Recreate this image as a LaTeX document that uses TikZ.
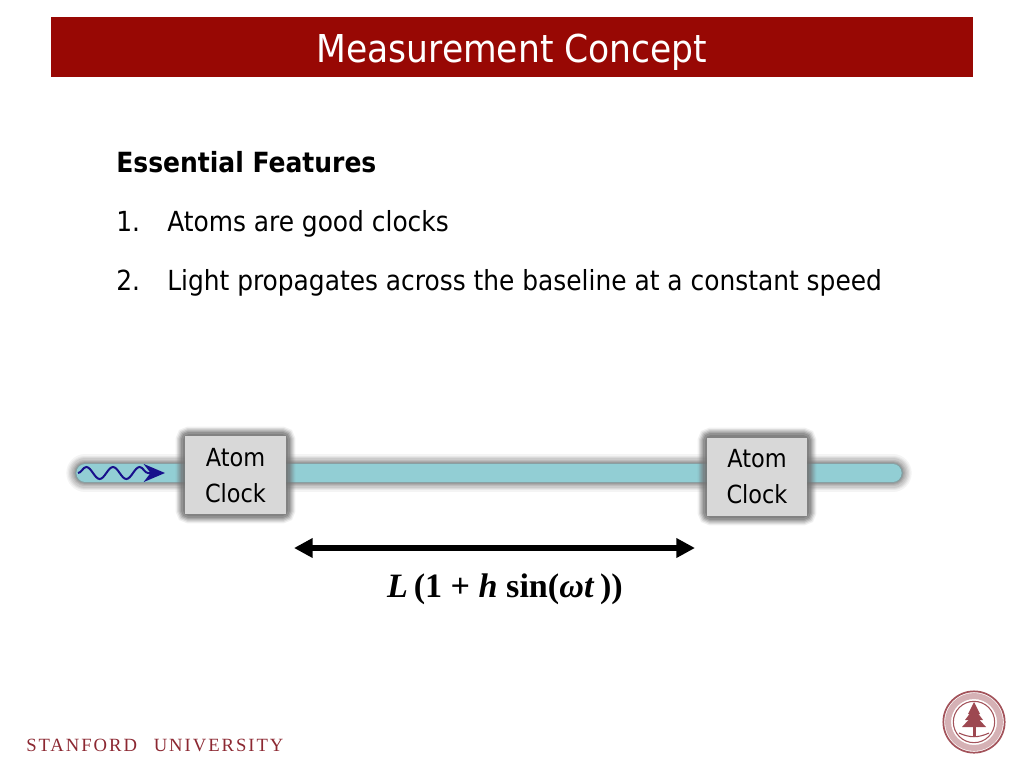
\documentclass[tikz,border=0pt]{standalone}
\usepackage{fontspec}
\setmainfont{DejaVu Sans Condensed}
\newfontfamily\formulafont{Liberation Serif}
\usetikzlibrary{decorations.pathmorphing, arrows.meta}
\definecolor{cardinal}{RGB}{152,8,4}
\definecolor{footerRed}{RGB}{140,40,50}
\definecolor{beamCyan}{RGB}{146,206,212}
\definecolor{clockGrey}{RGB}{216,216,216}
\definecolor{waveBlue}{RGB}{24,16,140}
\tikzset{
	bullet/.style={anchor=base west, inner sep=0pt, font=\fontsize{20.75}{24}\selectfont, text=black},
	clock/.style={draw=none, fill=clockGrey, minimum width=75.5pt, minimum height=58.5pt, inner sep=0pt, align=center, font=\fontsize{18.7}{27}\selectfont},
	sealRing/.style={draw=footerRed!80, fill=none}
}
\newcommand{\blurBar}[5]{
	\foreach \w/\o in {18/0.07, 16/0.08, 14/0.1, 12/0.12, 10/0.14, 8/0.18, 6/0.22, 4/0.26}
		\draw[line width=#5+\w pt, line cap=round, black!60, opacity=\o] (#1,#2) -- (#3,#4);
}
\newcommand{\blurBox}[4]{
	\foreach \w/\o in {14/0.1, 12/0.16, 10/0.24, 8/0.32, 6/0.4, 3/0.5}
		\draw[line width=\w pt, rounded corners=3pt, black!55, opacity=\o] (#1,#2) rectangle (#3,#4);
}
\newcommand{\clockLabel}{\rule{0pt}{14pt}Atom\\Clock}
\begin{document}
\begin{tikzpicture}[x=0.75pt, y=-0.75pt]
	\useasboundingbox[fill=white] (0,0) rectangle (1024,768);

	% title
	\node[fill=cardinal, minimum width=691.5pt, minimum height=45pt, inner sep=0pt, text=white, text height=30pt, text depth=6.5pt, font=\fontsize{28.8}{32}\selectfont] (title) at (512,47) {Measurement Concept};

	% text
	\node[bullet, font=\bfseries\fontsize{20.85}{24}\selectfont] (features) at (116,172) {Essential Features};
	\node[bullet] (num1) at (116,231) {1.};
	\node[bullet] (item1) at (167,231) {Atoms are good clocks};
	\node[bullet] (num2) at (116,290) {2.};
	\node[bullet] (item2) at (167,290) {Light propagates across the baseline at a constant speed};

	% baseline
	\blurBar{85}{473}{893}{473}{10pt}
	\draw[line width=15pt, line cap=round, beamCyan!80!black, opacity=0.5] (85,473) -- (893,473);
	\draw[line width=13pt, line cap=round, beamCyan] (85,473) -- (893,473);

	% clocks
	\blurBox{185}{436}{286}{514}
	\blurBox{707}{437}{807}{516}
	\node[clock] (clockLeft) at (235.5,475) {\clockLabel};
	\node[clock] (clockRight) at (757,476.5) {\clockLabel};

	% incoming light
	\coordinate (waveStart) at (78,473);
	\coordinate (waveEnd) at (150,473);
	\coordinate (waveTip) at (165,473);
	\draw[waveBlue, line width=1.5pt, decorate, decoration={snake, segment length=20pt, amplitude=4.5pt, post length=1pt}] (waveStart) -- (waveEnd);
	\draw[waveBlue, line width=1.5pt, -{Stealth[length=16pt, width=13.5pt]}] (waveEnd) -- (waveTip);

	% length
	\coordinate (lenLeft) at (294,548);
	\coordinate (lenRight) at (695,548);
	\draw[line width=3.8pt, {Triangle[length=14pt, width=14pt]}-{Triangle[length=14pt, width=14pt]}] (lenLeft) -- (lenRight);
	\node[inner sep=0pt, anchor=base, font=\formulafont\bfseries\fontsize{25.6}{28}\selectfont] (formula) at (505,597) {\textit{L}\,(1 + \textit{h} sin(\textit{ωt}\,))};

	% footer
	\node[anchor=base west, inner sep=0pt, text=footerRed, font=\formulafont\fontsize{14}{16}\selectfont] (footer) at (26,751) {\addfontfeature{LetterSpace=10.5}STANFORD\hspace{0.9em}UNIVERSITY};

	% seal
	\node[circle, sealRing, line width=1.3pt, minimum size=46pt, inner sep=0pt] (sealOuter) at (974,722) {};
	\node[circle, sealRing, line width=4.5pt, draw opacity=0.45, minimum size=39pt, inner sep=0pt] (sealMiddle) at (974,722) {};
	\node[circle, sealRing, line width=0.8pt, minimum size=31pt, inner sep=0pt] (sealInner) at (974,722) {};
	% tree
	\foreach \top/\low/\wid in {702/714/6, 708/720/9, 714/727/12}
		\fill[footerRed!85] (974,\top) -- (974+\wid,\low) -- (974-\wid,\low) -- cycle;
	\fill[footerRed!85] (972.5,726) rectangle (975.5,737);
	\draw[footerRed!85, line width=0.8pt] (959,733) to[out=-25, in=205] (989,733);
\end{tikzpicture}
\end{document}
